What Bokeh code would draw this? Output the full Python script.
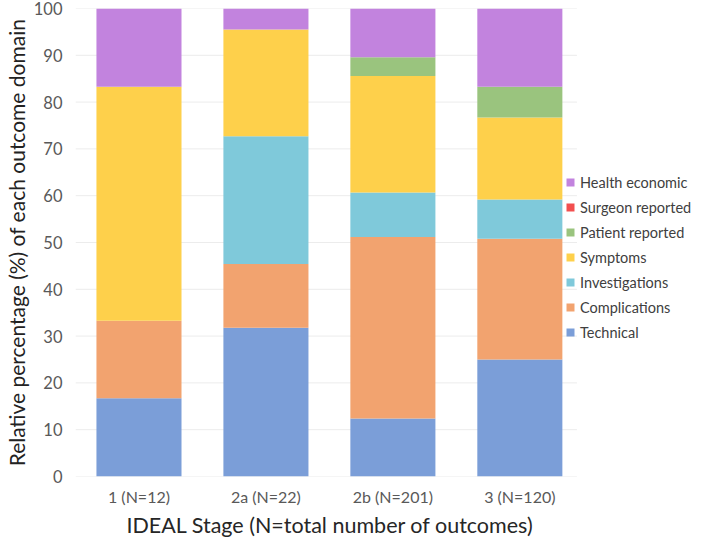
from bokeh.plotting import figure
from bokeh.models import ColumnDataSource, Legend, LegendItem, Range1d, FixedTicker, Title
from bokeh.embed import file_html
from bokeh.resources import INLINE

stages = ["1 (N=12)", "2a (N=22)", "2b (N=201)", "3 (N=120)"]
domains = ["Technical", "Complications", "Investigations", "Symptoms",
           "Patient reported", "Surgeon reported", "Health economic"]
technical = [16.7, 31.8, 12.4, 25.0]
complications = [16.6, 13.6, 38.8, 25.8]
investigations = [0.0, 27.3, 9.5, 8.4]
symptoms = [50.0, 22.8, 24.9, 17.5]
patient_reported = [0.0, 0.0, 4.0, 6.6]
surgeon_reported = [0.0, 0.0, 0.0, 0.0]
health_economic = [16.7, 4.5, 10.4, 16.7]
y_ticks = list(range(0, 101, 10))
colors = ["#7b9ed8", "#f2a36f", "#7fc9da", "#fed04b", "#9ac47e", "#f24f4f", "#c283de"]

xpos = [i + 0.5 for i in range(len(stages))]
data = {"x": xpos, "Technical": technical, "Complications": complications,
        "Investigations": investigations, "Symptoms": symptoms,
        "Patient reported": patient_reported, "Surgeon reported": surgeon_reported,
        "Health economic": health_economic}
src = ColumnDataSource(data)

p = figure(x_range=Range1d(0, 4.86), y_range=Range1d(0, 100),
           width=692, height=538, output_backend="svg", toolbar_location=None,
           min_border_top=8, min_border_bottom=0, min_border_left=67, min_border_right=0)

# light horizontal grid lines (stop before the legend area)
grid_end = len(stages) - 0.05
p.segment(x0=[0] * len(y_ticks), x1=[grid_end] * len(y_ticks), y0=y_ticks, y1=y_ticks,
          line_color="#ececec", line_width=1)

renderers = p.vbar_stack(domains, x="x", width=0.67, color=colors, source=src,
                         line_color=None, fill_alpha=1.0)

p.outline_line_color = None
p.xgrid.grid_line_color = None
p.ygrid.grid_line_color = None
p.yaxis.ticker = FixedTicker(ticks=y_ticks)
p.xaxis.ticker = FixedTicker(ticks=xpos)
p.xaxis.major_label_overrides = {x: s for x, s in zip(xpos, stages)}
for ax in (p.xaxis[0], p.yaxis[0]):
    ax.axis_line_color = None
    ax.major_tick_line_color = None
    ax.minor_tick_line_color = None
    ax.major_tick_out = 0
    ax.major_tick_in = 0
    ax.minor_tick_out = 0
p.yaxis.major_label_text_font = "Lato"
p.yaxis.major_label_text_font_size = "16.5px"
p.yaxis.major_label_text_color = "#595959"
p.yaxis.major_label_standoff = 13
p.yaxis.axis_label = "Relative percentage (%) of each outcome domain"
p.yaxis.axis_label_text_font = "Lato"
p.yaxis.axis_label_text_font_style = "normal"
p.yaxis.axis_label_text_font_size = "21px"
p.yaxis.axis_label_text_color = "#222222"
p.yaxis.axis_label_standoff = 2

p.xaxis.major_label_text_font = "Lato"
p.xaxis.major_label_text_font_size = "16px"
p.xaxis.major_label_text_color = "#595959"
p.xaxis.major_label_standoff = 10

xtitle = Title(text="IDEAL Stage (N=total number of outcomes)", align="left", offset=51,
               text_font="Lato", text_font_style="normal", text_font_size="21.5px",
               text_color="#262626", standoff=2)
p.add_layout(xtitle, "below")

items = [LegendItem(label=d, renderers=[r]) for d, r in zip(domains, renderers)][::-1]
legend = Legend(items=items, location=(490, 134), orientation="vertical",
                border_line_color=None, background_fill_alpha=0,
                label_text_font="Lato", label_text_font_size="14.5px",
                label_text_color="#404040", glyph_width=10, glyph_height=10,
                label_standoff=5, spacing=5, padding=0, margin=0, label_height=20)
p.add_layout(legend, "center")

open("out.html", "w").write(file_html(p, INLINE))
